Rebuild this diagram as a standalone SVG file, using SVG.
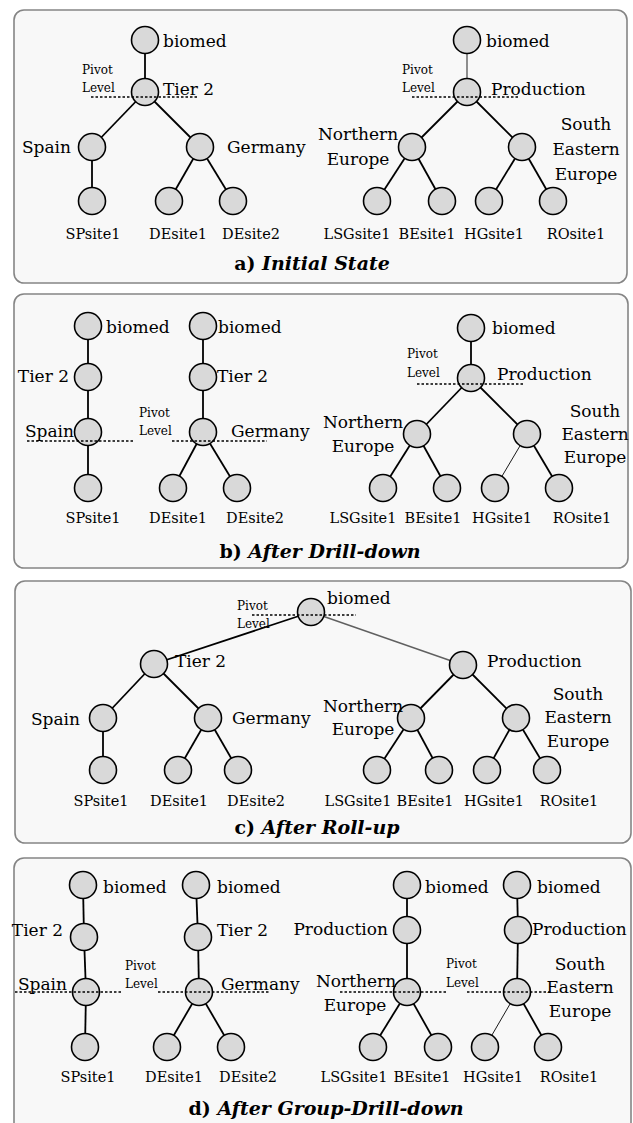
<svg xmlns="http://www.w3.org/2000/svg" width="633" height="1123" viewBox="0 0 633 1123">
<style>
.panel{fill:#f8f8f8;stroke:#858585;stroke-width:1.6}
.node circle{fill:#d9d9d9;stroke:#000;stroke-width:1.6}
text{font-family:"DejaVu Serif","Liberation Serif",serif;fill:#000}
.lbl{font-size:17px}
.leaf{font-size:14.5px;text-anchor:middle}
.mid{text-anchor:middle}
.end{text-anchor:end}
.piv{font-size:12px}
.edges line{stroke:#000;stroke-width:1.8}
.edges line.thin{stroke-width:0.9}
.edges line.gray{stroke:#606060;stroke-width:1.4}
.pivot line{stroke:#000;stroke-width:1.3;stroke-dasharray:2.5,2}
.title{font-size:19px;font-weight:bold;text-anchor:middle}
.title tspan{font-style:italic}
</style>

<g id="panels">
<rect class="panel" x="14" y="10" width="613" height="273" rx="10"/>
<rect class="panel" x="14" y="294" width="614" height="274" rx="10"/>
<rect class="panel" x="15" y="581" width="616" height="262" rx="10"/>
<rect class="panel" x="14" y="858" width="617" height="280" rx="10"/>
</g>

<g id="connectors" class="edges">
<!-- a -->
<line x1="145" y1="40" x2="145" y2="92"/>
<line x1="145" y1="92" x2="92" y2="147"/>
<line x1="145" y1="92" x2="200" y2="147"/>
<line x1="92" y1="147" x2="92" y2="201"/>
<line x1="200" y1="147" x2="169" y2="201"/>
<line x1="200" y1="147" x2="233" y2="201"/>
<line class="gray" x1="467" y1="40" x2="467" y2="92"/>
<line x1="467" y1="92" x2="412" y2="147"/>
<line x1="467" y1="92" x2="522" y2="147"/>
<line x1="412" y1="147" x2="377" y2="201"/>
<line x1="412" y1="147" x2="442" y2="201"/>
<line x1="522" y1="147" x2="489" y2="201"/>
<line x1="522" y1="147" x2="553" y2="201"/>
<!-- b -->
<line x1="88" y1="326" x2="88" y2="488"/>
<line x1="203" y1="326" x2="203" y2="432"/>
<line x1="203" y1="432" x2="173" y2="488"/>
<line x1="203" y1="432" x2="237" y2="488"/>
<line x1="471" y1="328" x2="471" y2="378"/>
<line x1="471" y1="378" x2="417" y2="434"/>
<line x1="471" y1="378" x2="527" y2="434"/>
<line x1="417" y1="434" x2="383" y2="488"/>
<line x1="417" y1="434" x2="447" y2="488"/>
<line class="thin" x1="527" y1="434" x2="495" y2="488"/>
<line x1="527" y1="434" x2="559" y2="488"/>
<!-- c -->
<line x1="311" y1="612" x2="154" y2="664"/>
<line class="gray" x1="311" y1="612" x2="463" y2="665"/>
<line x1="154" y1="664" x2="103" y2="718"/>
<line x1="154" y1="664" x2="208" y2="718"/>
<line x1="103" y1="718" x2="103" y2="770"/>
<line x1="208" y1="718" x2="178" y2="770"/>
<line x1="208" y1="718" x2="238" y2="770"/>
<line x1="463" y1="665" x2="411" y2="718"/>
<line x1="463" y1="665" x2="516" y2="718"/>
<line x1="411" y1="718" x2="377" y2="770"/>
<line x1="411" y1="718" x2="439" y2="770"/>
<line x1="516" y1="718" x2="487" y2="770"/>
<line x1="516" y1="718" x2="547" y2="770"/>
<!-- d -->
<line x1="83" y1="885" x2="84" y2="937"/>
<line x1="84" y1="937" x2="86" y2="992"/>
<line x1="86" y1="992" x2="85" y2="1047"/>
<line x1="196" y1="885" x2="198" y2="937"/>
<line x1="198" y1="937" x2="199" y2="992"/>
<line x1="199" y1="992" x2="167" y2="1047"/>
<line x1="199" y1="992" x2="231" y2="1047"/>
<line x1="407" y1="885" x2="407" y2="992"/>
<line x1="407" y1="992" x2="373" y2="1047"/>
<line x1="407" y1="992" x2="438" y2="1047"/>
<line x1="517" y1="885" x2="518" y2="930"/>
<line x1="518" y1="930" x2="517" y2="992"/>
<line class="thin" x1="517" y1="992" x2="485" y2="1047"/>
<line x1="517" y1="992" x2="548" y2="1047"/>
</g>

<!-- panel a nodes -->
<g id="a-biomed-1" class="node"><circle cx="145" cy="40" r="13.5"/><text class="lbl" x="163" y="47">biomed</text></g>
<g id="a-tier2" class="node"><circle cx="145" cy="92" r="13.5"/><text class="lbl" x="163" y="95">Tier 2</text></g>
<g id="a-spain" class="node"><circle cx="92" cy="147" r="13.5"/><text class="lbl end" x="71" y="153">Spain</text></g>
<g id="a-germany" class="node"><circle cx="200" cy="147" r="13.5"/><text class="lbl" x="227" y="153">Germany</text></g>
<g id="a-spsite1" class="node"><circle cx="92" cy="201" r="13.5"/><text class="leaf" x="93" y="239">SPsite1</text></g>
<g id="a-desite1" class="node"><circle cx="169" cy="201" r="13.5"/><text class="leaf" x="178" y="239">DEsite1</text></g>
<g id="a-desite2" class="node"><circle cx="233" cy="201" r="13.5"/><text class="leaf" x="251" y="239">DEsite2</text></g>
<g id="a-biomed-2" class="node"><circle cx="467" cy="40" r="13.5"/><text class="lbl" x="486" y="47">biomed</text></g>
<g id="a-production" class="node"><circle cx="467" cy="92" r="13.5"/><text class="lbl" x="491" y="95">Production</text></g>
<g id="a-northern-europe" class="node"><circle cx="412" cy="147" r="13.5"/><text class="lbl mid" x="358" y="140">Northern</text><text class="lbl mid" x="358" y="165">Europe</text></g>
<g id="a-south-eastern-europe" class="node"><circle cx="522" cy="147" r="13.5"/><text class="lbl mid" x="586" y="130">South</text><text class="lbl mid" x="586" y="155">Eastern</text><text class="lbl mid" x="586" y="180">Europe</text></g>
<g id="a-lsgsite1" class="node"><circle cx="377" cy="201" r="13.5"/><text class="leaf" x="357" y="239">LSGsite1</text></g>
<g id="a-besite1" class="node"><circle cx="442" cy="201" r="13.5"/><text class="leaf" x="427" y="239">BEsite1</text></g>
<g id="a-hgsite1" class="node"><circle cx="489" cy="201" r="13.5"/><text class="leaf" x="494" y="239">HGsite1</text></g>
<g id="a-rosite1" class="node"><circle cx="553" cy="201" r="13.5"/><text class="leaf" x="576" y="239">ROsite1</text></g>

<!-- panel b nodes -->
<g id="b-biomed-1" class="node"><circle cx="88" cy="326" r="13.5"/><text class="lbl" x="106" y="333">biomed</text></g>
<g id="b-tier2-1" class="node"><circle cx="88" cy="377" r="13.5"/><text class="lbl end" x="69" y="382">Tier 2</text></g>
<g id="b-spain" class="node"><circle cx="88" cy="432" r="13.5"/><text class="lbl end" x="74" y="437">Spain</text></g>
<g id="b-spsite1" class="node"><circle cx="88" cy="488" r="13.5"/><text class="leaf" x="93" y="523">SPsite1</text></g>
<g id="b-biomed-2" class="node"><circle cx="203" cy="326" r="13.5"/><text class="lbl" x="218" y="333">biomed</text></g>
<g id="b-tier2-2" class="node"><circle cx="203" cy="377" r="13.5"/><text class="lbl" x="217" y="382">Tier 2</text></g>
<g id="b-germany" class="node"><circle cx="203" cy="432" r="13.5"/><text class="lbl" x="231" y="437">Germany</text></g>
<g id="b-desite1" class="node"><circle cx="173" cy="488" r="13.5"/><text class="leaf" x="178" y="523">DEsite1</text></g>
<g id="b-desite2" class="node"><circle cx="237" cy="488" r="13.5"/><text class="leaf" x="255" y="523">DEsite2</text></g>
<g id="b-biomed-3" class="node"><circle cx="471" cy="328" r="13.5"/><text class="lbl" x="492" y="334">biomed</text></g>
<g id="b-production" class="node"><circle cx="471" cy="378" r="13.5"/><text class="lbl" x="497" y="380">Production</text></g>
<g id="b-northern-europe" class="node"><circle cx="417" cy="434" r="13.5"/><text class="lbl mid" x="363" y="428">Northern</text><text class="lbl mid" x="363" y="452">Europe</text></g>
<g id="b-south-eastern-europe" class="node"><circle cx="527" cy="434" r="13.5"/><text class="lbl mid" x="595" y="417">South</text><text class="lbl mid" x="595" y="440">Eastern</text><text class="lbl mid" x="595" y="463">Europe</text></g>
<g id="b-lsgsite1" class="node"><circle cx="383" cy="488" r="13.5"/><text class="leaf" x="363" y="523">LSGsite1</text></g>
<g id="b-besite1" class="node"><circle cx="447" cy="488" r="13.5"/><text class="leaf" x="433" y="523">BEsite1</text></g>
<g id="b-hgsite1" class="node"><circle cx="495" cy="488" r="13.5"/><text class="leaf" x="502" y="523">HGsite1</text></g>
<g id="b-rosite1" class="node"><circle cx="559" cy="488" r="13.5"/><text class="leaf" x="582" y="523">ROsite1</text></g>

<!-- panel c nodes -->
<g id="c-biomed" class="node"><circle cx="311" cy="612" r="13.5"/><text class="lbl" x="327" y="604">biomed</text></g>
<g id="c-tier2" class="node"><circle cx="154" cy="664" r="13.5"/><text class="lbl" x="175" y="667">Tier 2</text></g>
<g id="c-production" class="node"><circle cx="463" cy="665" r="13.5"/><text class="lbl" x="487" y="667">Production</text></g>
<g id="c-spain" class="node"><circle cx="103" cy="718" r="13.5"/><text class="lbl end" x="80" y="725">Spain</text></g>
<g id="c-germany" class="node"><circle cx="208" cy="718" r="13.5"/><text class="lbl" x="232" y="724">Germany</text></g>
<g id="c-spsite1" class="node"><circle cx="103" cy="770" r="13.5"/><text class="leaf" x="101" y="806">SPsite1</text></g>
<g id="c-desite1" class="node"><circle cx="178" cy="770" r="13.5"/><text class="leaf" x="179" y="806">DEsite1</text></g>
<g id="c-desite2" class="node"><circle cx="238" cy="770" r="13.5"/><text class="leaf" x="256" y="806">DEsite2</text></g>
<g id="c-northern-europe" class="node"><circle cx="411" cy="718" r="13.5"/><text class="lbl mid" x="363" y="712">Northern</text><text class="lbl mid" x="363" y="735">Europe</text></g>
<g id="c-south-eastern-europe" class="node"><circle cx="516" cy="718" r="13.5"/><text class="lbl mid" x="578" y="700">South</text><text class="lbl mid" x="578" y="723">Eastern</text><text class="lbl mid" x="578" y="747">Europe</text></g>
<g id="c-lsgsite1" class="node"><circle cx="377" cy="770" r="13.5"/><text class="leaf" x="358" y="806">LSGsite1</text></g>
<g id="c-besite1" class="node"><circle cx="439" cy="770" r="13.5"/><text class="leaf" x="425" y="806">BEsite1</text></g>
<g id="c-hgsite1" class="node"><circle cx="487" cy="770" r="13.5"/><text class="leaf" x="494" y="806">HGsite1</text></g>
<g id="c-rosite1" class="node"><circle cx="547" cy="770" r="13.5"/><text class="leaf" x="569" y="806">ROsite1</text></g>

<!-- panel d nodes -->
<g id="d-biomed-1" class="node"><circle cx="83" cy="885" r="13.5"/><text class="lbl" x="103" y="893">biomed</text></g>
<g id="d-tier2-1" class="node"><circle cx="84" cy="937" r="13.5"/><text class="lbl end" x="63" y="936">Tier 2</text></g>
<g id="d-spain" class="node"><circle cx="86" cy="992" r="13.5"/><text class="lbl end" x="67" y="990">Spain</text></g>
<g id="d-spsite1" class="node"><circle cx="85" cy="1047" r="13.5"/><text class="leaf" x="88" y="1082">SPsite1</text></g>
<g id="d-biomed-2" class="node"><circle cx="196" cy="885" r="13.5"/><text class="lbl" x="217" y="893">biomed</text></g>
<g id="d-tier2-2" class="node"><circle cx="198" cy="937" r="13.5"/><text class="lbl" x="217" y="936">Tier 2</text></g>
<g id="d-germany" class="node"><circle cx="199" cy="992" r="13.5"/><text class="lbl" x="221" y="990">Germany</text></g>
<g id="d-desite1" class="node"><circle cx="167" cy="1047" r="13.5"/><text class="leaf" x="174" y="1082">DEsite1</text></g>
<g id="d-desite2" class="node"><circle cx="231" cy="1047" r="13.5"/><text class="leaf" x="248" y="1082">DEsite2</text></g>
<g id="d-biomed-3" class="node"><circle cx="407" cy="885" r="13.5"/><text class="lbl" x="425" y="893">biomed</text></g>
<g id="d-production-1" class="node"><circle cx="407" cy="930" r="13.5"/><text class="lbl end" x="388" y="935">Production</text></g>
<g id="d-northern-europe" class="node"><circle cx="407" cy="992" r="13.5"/><text class="lbl mid" x="356" y="987">Northern</text><text class="lbl mid" x="355" y="1011">Europe</text></g>
<g id="d-lsgsite1" class="node"><circle cx="373" cy="1047" r="13.5"/><text class="leaf" x="354" y="1082">LSGsite1</text></g>
<g id="d-besite1" class="node"><circle cx="438" cy="1047" r="13.5"/><text class="leaf" x="422" y="1082">BEsite1</text></g>
<g id="d-biomed-4" class="node"><circle cx="517" cy="885" r="13.5"/><text class="lbl" x="537" y="893">biomed</text></g>
<g id="d-production-2" class="node"><circle cx="518" cy="930" r="13.5"/><text class="lbl" x="532" y="935">Production</text></g>
<g id="d-south-eastern-europe" class="node"><circle cx="517" cy="992" r="13.5"/><text class="lbl mid" x="580" y="970">South</text><text class="lbl mid" x="580" y="993">Eastern</text><text class="lbl mid" x="580" y="1017">Europe</text></g>
<g id="d-hgsite1" class="node"><circle cx="485" cy="1047" r="13.5"/><text class="leaf" x="493" y="1082">HGsite1</text></g>
<g id="d-rosite1" class="node"><circle cx="548" cy="1047" r="13.5"/><text class="leaf" x="569" y="1082">ROsite1</text></g>

<g id="pivot-levels" class="pivot">
<line x1="91" y1="97" x2="199" y2="97"/>
<text class="piv" x="82" y="74">Pivot</text><text class="piv" x="82" y="92">Level</text>
<line x1="412" y1="97" x2="518" y2="97"/>
<text class="piv" x="402" y="74">Pivot</text><text class="piv" x="402" y="92">Level</text>
<line x1="27" y1="441" x2="133" y2="441"/>
<line x1="172" y1="441" x2="267" y2="441"/>
<text class="piv" x="139" y="417">Pivot</text><text class="piv" x="139" y="435">Level</text>
<line x1="417" y1="384" x2="523" y2="384"/>
<text class="piv" x="407" y="358">Pivot</text><text class="piv" x="407" y="377">Level</text>
<line x1="252" y1="615" x2="356" y2="615"/>
<text class="piv" x="237" y="610">Pivot</text><text class="piv" x="237" y="628">Level</text>
<line x1="15" y1="992" x2="122" y2="992"/>
<line x1="158" y1="992" x2="270" y2="992"/>
<text class="piv" x="125" y="970">Pivot</text><text class="piv" x="125" y="988">Level</text>
<line x1="340" y1="992" x2="447" y2="992"/>
<line x1="467" y1="992" x2="552" y2="992"/>
<text class="piv" x="446" y="968">Pivot</text><text class="piv" x="446" y="987">Level</text>
</g>

<g id="titles">
<text class="title" x="312" y="270">a) <tspan>Initial State</tspan></text>
<text class="title" x="320" y="558">b) <tspan>After Drill-down</tspan></text>
<text class="title" x="317" y="834">c) <tspan>After Roll-up</tspan></text>
<text class="title" x="326" y="1115">d) <tspan>After Group-Drill-down</tspan></text>
</g>
</svg>
